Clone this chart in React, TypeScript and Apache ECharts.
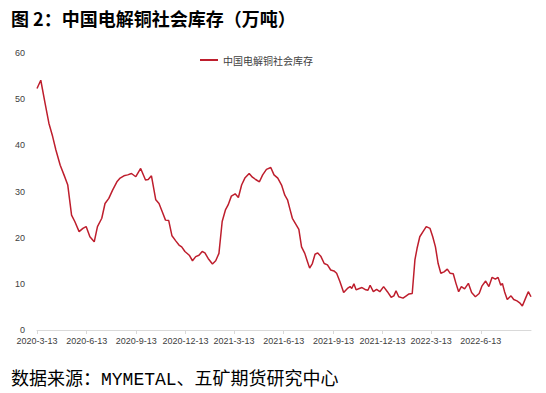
import React, { useEffect, useRef } from "react";
import * as echarts from "echarts";

const titleText = "图 2：中国电解铜社会库存（万吨）";
const sourceText = "数据来源：MYMETAL、五矿期货研究中心";
const seriesName = "中国电解铜社会库存";

const dates = ['2020-03-13','2020-03-20','2020-03-28','2020-04-04','2020-04-11','2020-04-17','2020-04-25','2020-05-02','2020-05-09','2020-05-16','2020-05-22','2020-05-30','2020-06-06','2020-06-12','2020-06-19','2020-06-27','2020-07-03','2020-07-11','2020-07-17','2020-07-24','2020-07-31','2020-08-08','2020-08-14','2020-08-21','2020-08-28','2020-09-04','2020-09-12','2020-09-21','2020-09-30','2020-10-05','2020-10-11','2020-10-19','2020-10-25','2020-10-31','2020-11-06','2020-11-12','2020-11-18','2020-11-25','2020-12-01','2020-12-06','2020-12-12','2020-12-20','2020-12-26','2021-01-01','2021-01-07','2021-01-13','2021-01-18','2021-01-24','2021-02-01','2021-02-07','2021-02-13','2021-02-19','2021-02-25','2021-03-02','2021-03-08','2021-03-15','2021-03-21','2021-03-27','2021-04-02','2021-04-10','2021-04-16','2021-04-22','2021-04-29','2021-05-05','2021-05-12','2021-05-20','2021-05-26','2021-06-02','2021-06-09','2021-06-15','2021-06-20','2021-06-24','2021-06-29','2021-07-05','2021-07-11','2021-07-16','2021-07-22','2021-07-27','2021-07-31','2021-08-05','2021-08-10','2021-08-15','2021-08-21','2021-08-27','2021-09-02','2021-09-08','2021-09-14','2021-09-19','2021-09-25','2021-10-02','2021-10-09','2021-10-14','2021-10-17','2021-10-21','2021-10-25','2021-10-31','2021-11-05','2021-11-12','2021-11-16','2021-11-20','2021-11-26','2021-12-02','2021-12-08','2021-12-15','2021-12-22','2021-12-29','2022-01-03','2022-01-07','2022-01-12','2022-01-20','2022-01-26','2022-01-31','2022-02-06','2022-02-11','2022-02-15','2022-02-20','2022-02-26','2022-03-04','2022-03-11','2022-03-16','2022-03-21','2022-03-26','2022-03-31','2022-04-06','2022-04-12','2022-04-17','2022-04-23','2022-04-28','2022-05-03','2022-05-08','2022-05-14','2022-05-21','2022-05-27','2022-06-03','2022-06-10','2022-06-15','2022-06-22','2022-06-28','2022-07-04','2022-07-10','2022-07-15','2022-07-20','2022-07-23','2022-07-27','2022-08-01','2022-08-08','2022-08-13','2022-08-19','2022-08-24','2022-08-29','2022-09-04','2022-09-09','2022-09-14'];

const values = [52.3,54.1,49.1,44.8,41.9,39.0,35.7,33.6,31.4,24.9,23.5,21.3,22.0,22.4,20.2,19.1,22.4,24.2,27.4,28.5,30.3,32.1,32.9,33.4,33.6,33.9,33.2,35.0,32.5,32.6,33.4,28.2,27.4,25.6,23.8,23.7,20.4,19.3,18.4,18.0,17.0,16.2,15.0,15.9,16.2,17.0,16.7,15.5,14.3,15.0,16.6,23.5,26.0,27.1,29.0,29.5,28.7,31.4,32.9,33.9,33.1,32.6,32.1,33.6,34.8,35.2,33.6,32.9,31.4,29.2,28.2,26.4,24.2,23.0,21.8,18.0,16.6,14.8,13.4,14.4,16.4,16.7,15.9,14.4,14.1,13.0,12.8,12.3,10.5,8.1,9.0,9.4,9.0,10.0,8.7,9.0,9.2,8.7,8.6,9.7,8.3,8.8,8.3,9.4,8.3,7.1,7.4,8.5,7.2,6.9,7.4,7.8,7.9,15.2,17.7,20.2,21.3,22.4,22.0,20.2,18.0,14.4,12.3,12.6,13.2,12.3,12.2,10.1,8.3,9.4,8.9,10.1,8.1,7.2,7.9,9.5,10.6,9.4,11.4,11.0,11.4,9.7,10.1,8.3,6.6,7.4,6.6,6.3,5.9,5.2,6.9,8.3,7.2];

const tickLabels = ['2020-3-13','2020-6-13','2020-9-13','2020-12-13','2021-3-13','2021-6-13','2021-9-13','2021-12-13','2022-3-13','2022-6-13'];

const yTicks = [0, 10, 20, 30, 40, 50, 60];

function parseDay(s: string): number {
  const [y, m, d] = s.split("-").map(Number);
  return Date.UTC(y, m - 1, d) / 86400000;
}

export default function App() {
  const ref = useRef<HTMLDivElement>(null);
  useEffect(() => {
    if (!ref.current) return;
    const chart = echarts.init(ref.current, undefined, { renderer: "svg" });
    const tickValues = tickLabels.map(parseDay);
    const labelMap: Record<number, string> = {};
    tickValues.forEach((v, i) => (labelMap[v] = tickLabels[i]));
    chart.setOption({
      animation: false,
      backgroundColor: "#ffffff",
      title: [
        {
          text: titleText,
          left: 6,
          top: 4,
          textStyle: {
            fontFamily: "'Noto Sans CJK SC', sans-serif",
            fontSize: 18,
            fontWeight: "bold",
            color: "#000000",
          },
        },
        {
          text: sourceText,
          left: 6,
          top: 366,
          textStyle: {
            fontFamily: "'Liberation Mono', 'Noto Sans CJK SC', monospace",
            fontSize: 18,
            fontWeight: "normal",
            color: "#000000",
          },
        },
      ],
      legend: {
        data: [seriesName],
        left: 195,
        top: 50,
        icon: "rect",
        itemWidth: 18,
        itemHeight: 2,
        itemGap: 5,
        textStyle: {
          fontFamily: "'Noto Sans CJK SC', sans-serif",
          fontSize: 10,
          color: "#404040",
        },
      },
      grid: {
        left: 37,
        right: 15,
        top: 53,
        bottom: 63,
        containLabel: false,
        outerBoundsMode: "none",
      },
      xAxis: {
        type: "value",
        min: parseDay(dates[0]),
        max: parseDay(dates[dates.length - 1]),
        axisLine: { show: true, lineStyle: { color: "#d9d9d9", width: 1 } },
        axisTick: {
          show: true,
          customValues: tickValues,
          length: 4,
          lineStyle: { color: "#d9d9d9" },
        },
        splitLine: { show: false },
        axisLabel: {
          customValues: tickValues,
          formatter: (v: number) => labelMap[v] ?? "",
          fontFamily: "'Liberation Sans', Arial, sans-serif",
          fontSize: 9,
          color: "#404040",
          margin: 6,
          hideOverlap: false,
          showMinLabel: true,
          showMaxLabel: true,
        },
      },
      yAxis: {
        type: "value",
        min: yTicks[0],
        max: yTicks[yTicks.length - 1],
        interval: 10,
        axisLine: { show: false },
        axisTick: { show: false },
        splitLine: { show: false },
        axisLabel: {
          fontFamily: "'Liberation Sans', Arial, sans-serif",
          fontSize: 9,
          color: "#404040",
          margin: 12,
        },
      },
      series: [
        {
          name: seriesName,
          type: "line",
          data: dates.map((d, i) => [parseDay(d), values[i]]),
          showSymbol: false,
          symbol: "none",
          lineStyle: { color: "#BE1E2D", width: 1.5 },
          itemStyle: { color: "#BE1E2D" },
        },
      ],
    });
    return () => chart.dispose();
  }, []);
  return (
    <div
      ref={ref}
      style={{ position: "absolute", left: 0, top: 0, width: 546, height: 393 }}
    />
  );
}
